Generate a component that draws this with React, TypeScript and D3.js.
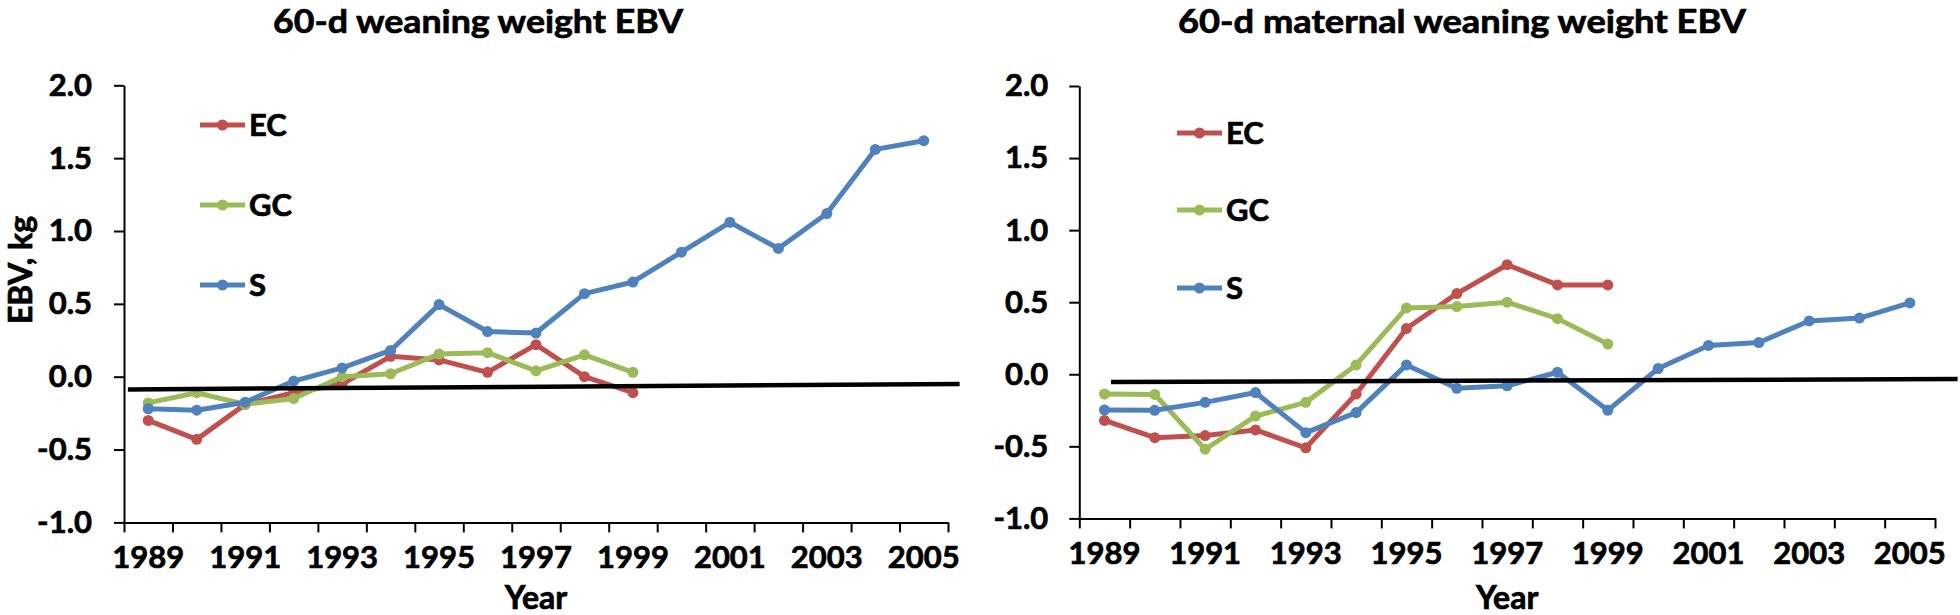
import React, { useEffect, useRef } from "react";
import * as d3 from "d3";

// categories and ticks
const years = [1989, 1990, 1991, 1992, 1993, 1994, 1995, 1996, 1997, 1998, 1999, 2000, 2001, 2002, 2003, 2004, 2005];
const yearLabels = [1989, 1991, 1993, 1995, 1997, 1999, 2001, 2003, 2005];
const yTicks = [-1.0, -0.5, 0.0, 0.5, 1.0, 1.5, 2.0];

// 60-d weaning weight EBV
const wwEC = [-0.3, -0.43, -0.19, -0.11, -0.05, 0.14, 0.115, 0.03, 0.22, 0.0, -0.11];
const wwGC = [-0.18, -0.11, -0.19, -0.15, 0.0, 0.02, 0.155, 0.165, 0.04, 0.15, 0.03];
const wwS = [-0.22, -0.23, -0.175, -0.03, 0.06, 0.18, 0.495, 0.31, 0.3, 0.57, 0.65, 0.855, 1.06, 0.88, 1.12, 1.56, 1.62];
const wwRef = [
  { year: 1988.58, v: -0.087 },
  { year: 2005.74, v: -0.05 },
];

// 60-d maternal weaning weight EBV
const mwEC = [-0.32, -0.44, -0.425, -0.386, -0.51, -0.137, 0.318, 0.56, 0.76, 0.62, 0.62];
const mwGC = [-0.137, -0.14, -0.52, -0.29, -0.195, 0.065, 0.46, 0.47, 0.5, 0.386, 0.21];
const mwS = [-0.248, -0.25, -0.195, -0.127, -0.405, -0.266, 0.065, -0.097, -0.08, 0.014, -0.25, 0.04, 0.2, 0.22, 0.37, 0.39, 0.495];
const mwRef = [
  { year: 1989.13, v: -0.054 },
  { year: 2005.95, v: -0.033 },
];

const seriesNames = ["EC", "GC", "S"];
const colors = ["#C0504D", "#9BBB59", "#4F81BD"];

const FONT = "Lato, 'Open Sans', sans-serif";

type Panel = {
  title: string;
  titleX: number;
  titleW: number;
  x0: number;
  x1: number;
  y0: number;
  y1: number;
  yPad: number;
  series: number[][];
  ref: { year: number; v: number }[];
  legendX: number;
  legendY: number[];
  yLabel?: string;
};

const panels: Panel[] = [
  {
    title: "60-d weaning weight EBV",
    titleX: 478,
    titleW: 410,
    x0: 124,
    x1: 948,
    y0: 522.4,
    y1: 85.3,
    yPad: 22,
    series: [wwEC, wwGC, wwS],
    ref: wwRef,
    legendX: 200,
    legendY: [125, 205, 285],
    yLabel: "EBV, kg",
  },
  {
    title: "60-d maternal weaning weight EBV",
    titleX: 1462,
    titleW: 568,
    x0: 1079.3,
    x1: 1935,
    y0: 518.4,
    y1: 86,
    yPad: 21,
    series: [mwEC, mwGC, mwS],
    ref: mwRef,
    legendX: 1177,
    legendY: [133, 210, 288],
  },
];

// bold text with a thin outline to get closer to the heavy original face
function boldText(sel: d3.Selection<any, any, any, any>, size: number) {
  return sel
    .attr("fill", "#000")
    .attr("stroke", "#000")
    .attr("stroke-width", 0.7)
    .attr("font-family", FONT)
    .attr("font-weight", "bold")
    .attr("font-size", size);
}

function drawPanel(svg: d3.Selection<SVGSVGElement, unknown, null, undefined>, p: Panel) {
  const g = svg.append("g");
  const x = d3.scaleLinear().domain([1988.5, 2005.5]).range([p.x0, p.x1]);
  const y = d3.scaleLinear().domain([-1, 2]).range([p.y0, p.y1]);

  // y axis
  const ya = g
    .append("g")
    .attr("transform", `translate(${p.x0},0)`)
    .call(
      d3
        .axisLeft(y)
        .tickValues(yTicks)
        .tickFormat((d) => (+d).toFixed(1))
        .tickSize(10)
        .tickSizeOuter(0)
        .tickPadding(p.yPad)
    );

  // x axis, ticks between categories
  const bounds = years.map((d) => d - 0.5).concat([years[years.length - 1] + 0.5]);
  const xa = g
    .append("g")
    .attr("transform", `translate(0,${p.y0})`)
    .call(d3.axisBottom(x).tickValues(bounds).tickFormat(() => "").tickSize(10).tickSizeOuter(0));

  [ya, xa].forEach((a) => {
    a.selectAll("path, line").attr("stroke", "#000").attr("stroke-width", 2);
    boldText(a.selectAll("text"), 31);
  });

  boldText(
    g
      .selectAll(".xl")
      .data(yearLabels)
      .join("text")
      .attr("x", (d) => x(d))
      .attr("y", p.y0 + 46)
      .attr("text-anchor", "middle")
      .text((d) => d),
    31
  );

  // series
  const line = d3
    .line<number>()
    .x((_, i) => x(years[i]))
    .y((d) => y(d));

  p.series.forEach((s, k) => {
    g.append("path")
      .attr("d", line(s) as string)
      .attr("fill", "none")
      .attr("stroke", colors[k])
      .attr("stroke-width", 5)
      .attr("stroke-linejoin", "round");
    g.selectAll(null)
      .data(s)
      .join("circle")
      .attr("cx", (_, i) => x(years[i]))
      .attr("cy", (d) => y(d))
      .attr("r", 5.5)
      .attr("fill", colors[k]);
  });

  // black reference line
  const refLine = d3
    .line<{ year: number; v: number }>()
    .x((d) => x(d.year))
    .y((d) => y(d.v));
  g.append("path")
    .attr("d", refLine(p.ref) as string)
    .attr("stroke", "#000")
    .attr("stroke-width", 4.5);

  // legend
  seriesNames.forEach((name, k) => {
    const ly = p.legendY[k];
    g.append("line")
      .attr("x1", p.legendX)
      .attr("x2", p.legendX + 45)
      .attr("y1", ly)
      .attr("y2", ly)
      .attr("stroke", colors[k])
      .attr("stroke-width", 5);
    g.append("circle")
      .attr("cx", p.legendX + 22.5)
      .attr("cy", ly)
      .attr("r", 5.5)
      .attr("fill", colors[k]);
    boldText(
      g
        .append("text")
        .attr("x", p.legendX + 49)
        .attr("y", ly)
        .attr("dy", "0.36em")
        .text(name),
      31
    );
  });

  // title
  boldText(
    g
      .append("text")
      .attr("x", p.titleX)
      .attr("y", 33)
      .attr("text-anchor", "middle")
      .attr("textLength", p.titleW)
      .attr("lengthAdjust", "spacingAndGlyphs")
      .text(p.title),
    33
  );

  // x title
  boldText(
    g
      .append("text")
      .attr("x", (p.x0 + p.x1) / 2)
      .attr("y", 609)
      .attr("text-anchor", "middle")
      .text("Year"),
    32
  );

  if (p.yLabel) {
    boldText(
      g
        .append("text")
        .attr("transform", `translate(20,270) rotate(-90)`)
        .attr("text-anchor", "middle")
        .attr("dy", "0.36em")
        .text(p.yLabel),
      32
    );
  }
}

export default function App() {
  const svgRef = useRef<SVGSVGElement>(null);

  useEffect(() => {
    const svg = d3.select(svgRef.current!);
    svg.selectAll("*").remove();
    svg.append("rect").attr("width", 1960).attr("height", 615).attr("fill", "#fff");
    panels.forEach((p) => drawPanel(svg as any, p));
  }, []);

  return (
    <svg
      ref={svgRef}
      width={1960}
      height={615}
      style={{ position: "absolute", left: 0, top: 0 }}
    ></svg>
  );
}
